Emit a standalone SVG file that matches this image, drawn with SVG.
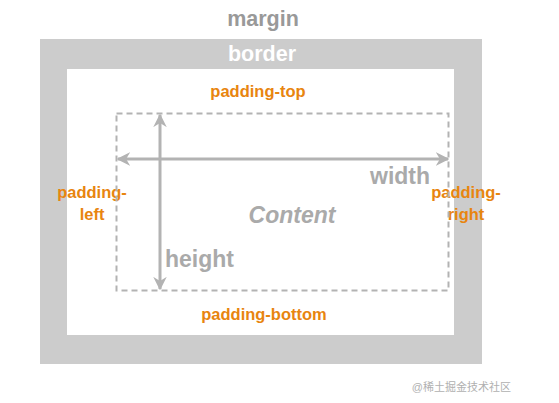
<svg xmlns="http://www.w3.org/2000/svg" width="559" height="403" viewBox="0 0 559 403">
<style>
text{font-family:"Liberation Sans",Arial,sans-serif;font-weight:bold}
.or{fill:#e8850f;font-size:16.5px}
.gr{fill:#aaaaaa;font-size:23px}
.ln{stroke:#b3b3b3;stroke-width:3;fill:none}
</style>
<defs>
<marker id="ah" viewBox="0 0 10 10" refX="9" refY="5" markerWidth="4.5" markerHeight="4.5" orient="auto-start-reverse" markerUnits="strokeWidth">
<path d="M0,0 L10,5 L0,10 L3,5 Z" fill="#b3b3b3"/>
</marker>
</defs>
<rect width="559" height="403" fill="#ffffff"/>
<g id="margin"><text x="263" y="26" text-anchor="middle" style="fill:#999999;font-size:21.5px">margin</text></g>
<g id="border">
<rect x="40" y="39" width="442" height="325" fill="#cccccc"/>
<text x="262" y="61" text-anchor="middle" style="fill:#ffffff;font-size:21.5px">border</text>
</g>
<g id="padding">
<rect x="67" y="69" width="387" height="266" fill="#ffffff"/>
<text x="258" y="97" text-anchor="middle" class="or">padding-top</text>
<text x="264" y="320" text-anchor="middle" class="or">padding-bottom</text>
<text x="92" y="198" text-anchor="middle" class="or">padding-</text>
<text x="92" y="220" text-anchor="middle" class="or">left</text>
<text x="466" y="198" text-anchor="middle" class="or">padding-</text>
<text x="466" y="220" text-anchor="middle" class="or">right</text>
</g>
<g id="content">
<rect x="116.5" y="113.5" width="332" height="177" fill="none" stroke="#b3b3b3" stroke-width="2" stroke-dasharray="6,4"/>
<text x="292" y="223" text-anchor="middle" class="gr" style="font-style:italic">Content</text>
<text x="370" y="184" class="gr">width</text>
<text x="165" y="267" class="gr">height</text>
</g>
<g id="connectors">
<line x1="118" y1="159" x2="448" y2="159" class="ln" marker-start="url(#ah)" marker-end="url(#ah)"/>
<line x1="160" y1="115" x2="160" y2="289" class="ln" marker-start="url(#ah)" marker-end="url(#ah)"/>
</g>
<text x="511" y="391" text-anchor="end" style="font-family:'Liberation Sans','Noto Sans CJK SC',sans-serif;font-weight:normal;font-size:11px;fill:#b0b0b0">@稀土掘金技术社区</text>
</svg>
